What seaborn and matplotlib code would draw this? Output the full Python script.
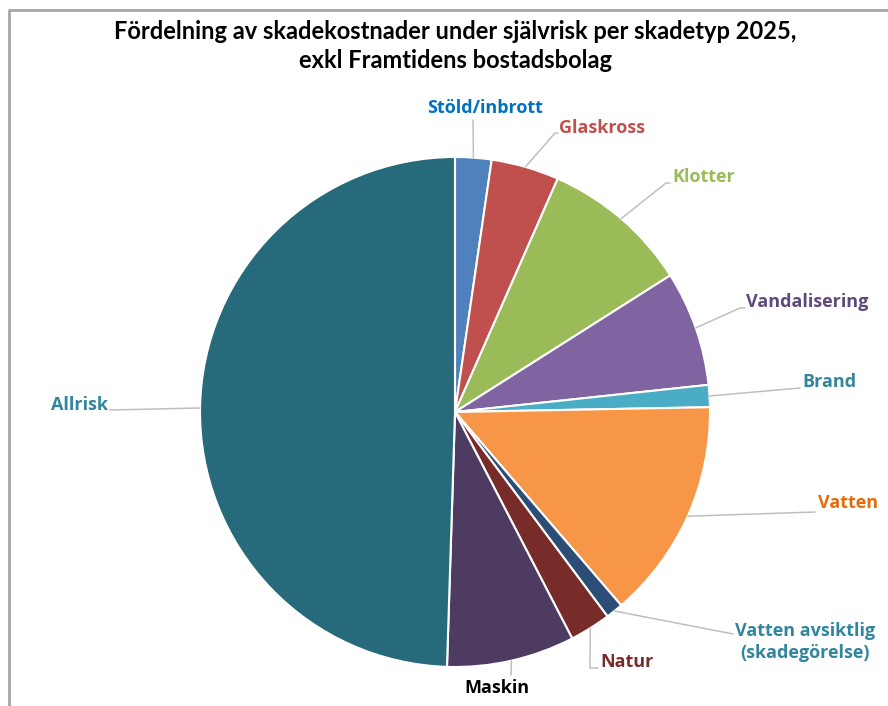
import matplotlib
matplotlib.use("Agg")
import matplotlib.pyplot as plt
import seaborn as sns
import numpy as np

# ---- data ----
categories = ["Stöld/inbrott", "Glaskross", "Klotter", "Vandalisering", "Brand",
              "Vatten", "Vatten avsiktlig\n(skadegörelse)", "Natur", "Maskin", "Allrisk"]
values = [2.3, 4.3, 9.4, 7.3, 1.4, 14.0, 1.1, 2.6, 8.1, 49.5]
wedge_colors = ["#4F81BD", "#C0504D", "#9BBB59", "#8064A2", "#4BACC6",
                "#F79646", "#2C4D75", "#772C2A", "#4E3B62", "#276A7C"]
label_colors = ["#0070C0", "#C0504D", "#9BBB59", "#5F497A", "#31859C",
                "#E46C0A", "#31859C", "#772C2A", "#000000", "#31859C"]
title = "Fördelning av skadekostnader under självrisk per skadetyp 2025,\nexkl Framtidens bostadsbolag"

# ---- layout (pixel coordinates, y downwards) ----
W, H = 888, 706
CX, CY, R = 455, 412, 255
label_pos = [(485, 108, "center"), (559, 128, "left"), (672, 177, "left"),
             (746, 302, "left"), (802, 382, "left"), (818, 503, "left"),
             (805, 642, "center"), (600, 662, "left"), (497, 688, "center"),
             (108, 405, "right")]
leader_pts = [[(473, 120)],
              [(555, 133), (558, 133)],
              [(666, 183), (670, 183)],
              [(740, 308), (745, 308)],
              [(800, 388)],
              [(815, 512)],
              [(733, 634)],
              [(590, 668), (598, 668)],
              [(511, 675)],
              [(110, 410)]]

sns.set_theme(style="white")
plt.rcParams["font.family"] = ["Open Sans", "DejaVu Sans"]

fig = plt.figure(figsize=(W / 100, H / 100), dpi=100)
ax = fig.add_axes([0, 0, 1, 1])

wedges, _ = ax.pie(values, colors=wedge_colors, startangle=90, counterclock=False,
                   radius=R, center=(CX, -CY),
                   wedgeprops=dict(edgecolor="white", linewidth=1.5))
ax.set_xlim(0, W)
ax.set_ylim(-H, 0)
ax.set_aspect("auto")
ax.axis("off")

for w, (lx, ly, ha), pts, lab, col in zip(wedges, label_pos, leader_pts, categories, label_colors):
    th = np.deg2rad((w.theta1 + w.theta2) / 2)
    sx, sy = CX + R * np.cos(th), -CY + R * np.sin(th)
    xs = [sx] + [p[0] for p in pts]
    ys = [sy] + [-p[1] for p in pts]
    ax.plot(xs, ys, color="#BFBFBF", lw=1.1, zorder=1)
    ax.text(lx, -ly, lab, ha=ha, va="center", color=col, fontsize=13,
            fontweight="bold", linespacing=1.3)

ax.text(455, -46, title, ha="center", va="center", fontsize=17, fontweight="bold",
        color="black", linespacing=1.35, family=["Lato", "DejaVu Sans"])

# chart border
ax.plot([9, 9, W], [-H, -10, -10], color="#A6A6A6", lw=2, zorder=0)

fig.savefig("out.png", dpi=100)
